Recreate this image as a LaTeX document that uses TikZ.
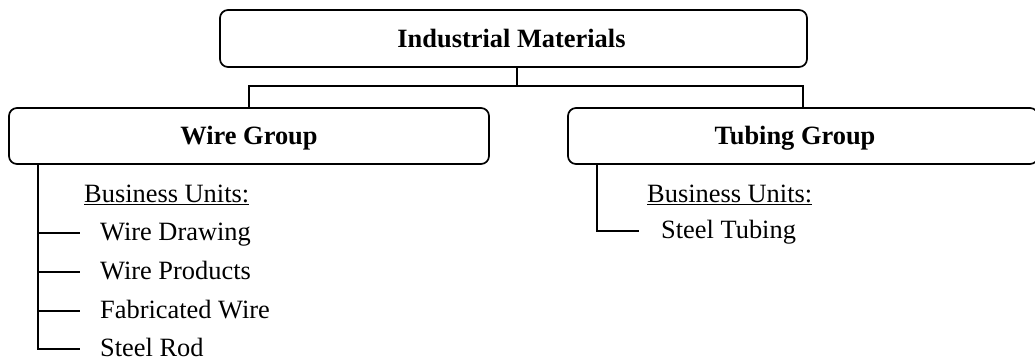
\documentclass[tikz,border=0pt]{standalone}
\usepackage{fontspec}
\setmainfont{Liberation Serif}
\tikzset{
  grpbox/.style={draw, line width=1.7pt, rounded corners=8pt, inner sep=0pt,
    font=\fontsize{26.4}{30}\selectfont\bfseries, text height=17.4pt, text depth=0pt},
  item/.style={inner sep=0pt, anchor=base west, font=\fontsize{26.4}{30}\selectfont,
    text height=14pt, text depth=0pt},
  conn/.style={line width=1.7pt},
}
\begin{document}
\begin{tikzpicture}[x=1pt,y=-1pt]
\useasboundingbox (0,0) rectangle (1035,360);
\node[grpbox, minimum width=587pt, minimum height=57pt] (top) at (513.5,38.5) {Industrial Materials\hspace*{4pt}};
\node[grpbox, minimum width=480pt, minimum height=56pt] (wire) at (249,136) {Wire Group};
\node[grpbox, minimum width=470pt, minimum height=56pt] (tub) at (803,136) {Tubing Group\hspace*{16pt}};
\coordinate (j) at (517,86);
\draw[conn] (top.south -| j) -- (j);
\draw[conn] (wire.north) |- (j) -| (tub.north);
% wire branch
\node[item] (wbu) at (84,202) {\underline{Business Units:}};
\node[item] (wd) at (100,240) {Wire Drawing};
\node[item] (wp) at (100,279) {Wire Products};
\node[item] (fw) at (100,318) {Fabricated Wire};
\node[item] (sr) at (100,356) {Steel Rod};
\coordinate (wv) at (38,164);
\draw[conn] (wv) |- ([xshift=-20pt]sr.west);
\draw[conn] (wv |- wd.west) -- ([xshift=-20pt]wd.west);
\draw[conn] (wv |- wp.west) -- ([xshift=-20pt]wp.west);
\draw[conn] (wv |- fw.west) -- ([xshift=-20pt]fw.west);
% tubing branch
\node[item] (tbu) at (647,202) {\underline{Business Units:}};
\node[item] (st) at (661,238) {Steel Tubing};
\coordinate (tv) at (597,164);
\draw[conn] (tv) |- ([xshift=-22pt]st.west);
\end{tikzpicture}
\end{document}
